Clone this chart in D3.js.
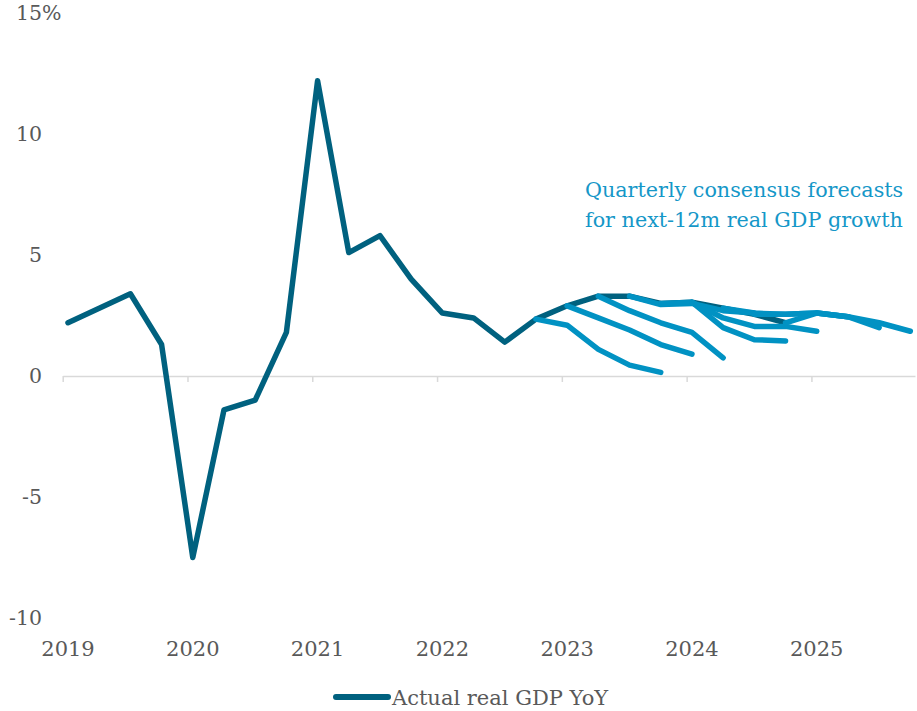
<!DOCTYPE html>
<html>
<head>
<meta charset="utf-8">
<script src="https://cdn.jsdelivr.net/npm/d3@7"></script>
<style>
  html, body { margin: 0; padding: 0; background: #fff; }
  svg { display: block; }
  text { font-family: "DejaVu Serif", Georgia, serif; }
</style>
</head>
<body>
<svg id="chart" width="917" height="711"></svg>
<script>
// Actual real GDP, year-on-year %, quarterly from 2019Q1
const actualStart = "2019Q1";
const actualValues = [
  2.2, 2.8, 3.4, 1.3,
  -7.5, -1.4, -1.0, 1.8,
  12.2, 5.1, 5.8, 4.0,
  2.6, 2.4, 1.4, 2.35,
  2.9, 3.3, 3.3, 3.0,
  3.05, 2.8, 2.55, 2.2
];

// Consensus forecasts: each starts at the latest actual and runs four quarters ahead
const forecastStarts = [
  "2022Q4", "2023Q1", "2023Q2", "2023Q3", "2023Q4",
  "2024Q1", "2024Q2", "2024Q3", "2024Q4"
];
const forecastValues = [
  [2.35, 2.1, 1.1, 0.45, 0.15],
  [2.9, 2.4, 1.9, 1.3, 0.9],
  [3.3, 2.7, 2.2, 1.8, 0.75],
  [3.3, 2.95, 3.0, 2.7, 2.6],
  [3.0, 3.05, 2.0, 1.5, 1.45],
  [3.05, 2.4, 2.05, 2.05, 1.85],
  [2.8, 2.6, 2.55, 2.6, 2.45],
  [2.55, 2.55, 2.6, 2.45, 2.0],
  [2.2, 2.6, 2.45, 2.2, 1.85]
];

const yearTicks = [2019, 2020, 2021, 2022, 2023, 2024, 2025];
const yTicks = [-10, -5, 0, 5, 10, 15];
const annotationLines = ["Quarterly consensus forecasts", "for next-12m real GDP growth"];
const legendLabel = "Actual real GDP YoY";

const darkBlue = "#00617f";
const lightBlue = "#0192c3";
const labelGrey = "#595959";
const axisGrey = "#d9d9d9";

// quarter "YYYYQn" (+ offset quarters) -> decimal year; observations sit mid-January of each quarter's first month
const midMonth = 0.0425;
function quarterToYear(q, offset) {
  const y = +q.slice(0, 4), n = +q.slice(5);
  return y + (n - 1 + offset) / 4 + midMonth;
}

const svg = d3.select("#chart");

const x = d3.scaleLinear().domain([2019, 2025.83]).range([62.7, 915]);
const y = d3.scaleLinear().domain([-10, 15]).range([618, 13]);

// zero line with year ticks
const xAxis = d3.axisBottom(x)
  .tickValues(yearTicks)
  .tickSize(6)
  .tickSizeOuter(0)
  .tickFormat("");
const gx = svg.append("g").attr("transform", `translate(0,${y(0)})`).call(xAxis);
gx.select(".domain").attr("stroke", axisGrey).attr("stroke-width", 1.5);
gx.selectAll(".tick line").attr("stroke", axisGrey).attr("stroke-width", 1.5);

// year labels under the chart, centred on each year's first observation
svg.append("g").selectAll("text")
  .data(yearTicks)
  .join("text")
  .attr("x", d => x(d + midMonth))
  .attr("y", 656)
  .attr("text-anchor", "middle")
  .attr("font-size", 21)
  .attr("fill", labelGrey)
  .text(d => d);

// value labels on the left
const yl = svg.append("g");
yl.selectAll("text")
  .data(yTicks)
  .join("text")
  .attr("x", 42)
  .attr("y", d => y(d))
  .attr("dy", "0.35em")
  .attr("text-anchor", "end")
  .attr("font-size", 20.5)
  .attr("fill", labelGrey)
  .text(d => d);
yl.append("text")
  .attr("x", 42)
  .attr("y", y(yTicks[yTicks.length - 1]))
  .attr("dy", "0.35em")
  .attr("font-size", 20.5)
  .attr("fill", labelGrey)
  .text("%");

const line = d3.line().x(d => x(d.t)).y(d => y(d.v));

const actual = actualValues.map((v, i) => ({ t: quarterToYear(actualStart, i), v }));
svg.append("path")
  .datum(actual)
  .attr("d", line)
  .attr("fill", "none")
  .attr("stroke", darkBlue)
  .attr("stroke-width", 5.5)
  .attr("stroke-linejoin", "round")
  .attr("stroke-linecap", "round");

const forecasts = forecastStarts.map((s, k) =>
  forecastValues[k].map((v, i) => ({ t: quarterToYear(s, i), v })));
svg.append("g").selectAll("path")
  .data(forecasts)
  .join("path")
  .attr("d", line)
  .attr("fill", "none")
  .attr("stroke", lightBlue)
  .attr("stroke-width", 5.5)
  .attr("stroke-linejoin", "round")
  .attr("stroke-linecap", "round");

// annotation
svg.append("g").selectAll("text")
  .data(annotationLines)
  .join("text")
  .attr("x", 585)
  .attr("y", (d, i) => 197 + i * 30)
  .attr("font-size", 20.7)
  .attr("fill", "#1597c8")
  .text(d => d);

// legend
const lg = svg.append("g");
lg.append("line")
  .attr("x1", 336).attr("x2", 388)
  .attr("y1", 697).attr("y2", 697)
  .attr("stroke", darkBlue)
  .attr("stroke-width", 6)
  .attr("stroke-linecap", "round");
lg.append("text")
  .attr("x", 392)
  .attr("y", 705)
  .attr("font-size", 21)
  .attr("fill", labelGrey)
  .text(legendLabel);
</script>
</body>
</html>
